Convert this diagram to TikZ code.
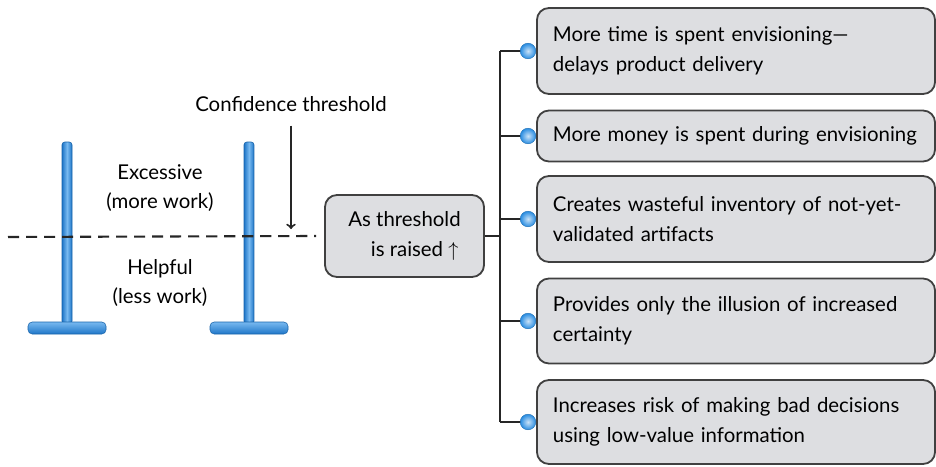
\documentclass[tikz,border=0pt]{standalone}
\usepackage{amsmath,amssymb}
\usepackage{fontspec}
\setmainfont{Lato}
\definecolor{boxgray}{RGB}{221,222,225}
\definecolor{postblue}{RGB}{30,118,200}
\definecolor{postlight}{RGB}{120,185,240}
\definecolor{dotblue}{RGB}{40,140,225}
\tikzset{
  textfont/.style={font=\fontsize{14.5}{21}\selectfont},
  effect/.style={draw=black!75, fill=boxgray, rounded corners=0.3cm, line width=1.3pt,
    align=left, text width=9.15cm, inner xsep=0.4cm, minimum width=9.95cm, textfont},
  raisedbox/.style={draw=black!75, fill=boxgray, rounded corners=0.3cm, line width=1.3pt,
    align=center, minimum width=3.975cm, minimum height=2.05cm, textfont},
  bullet/.style={circle, inner sep=0pt, minimum size=0.39cm, draw=dotblue!80!black, line width=0.3pt,
    inner color=white!75!dotblue, outer color=dotblue},
  trunkline/.style={line width=2pt, black!85},
}

\begin{document}
\begin{tikzpicture}[x=0.025cm,y=-0.025cm]
  \useasboundingbox (0,0) rectangle (936,467);

  % the two posts
  \foreach \px in {67,249} {
    \shade[left color=postblue, right color=postblue, middle color=postlight, rounded corners=2pt]
      (\px-5,142) rectangle (\px+5,324);
    \draw[postblue!85!black, line width=0.4pt, rounded corners=2pt] (\px-5,142) rectangle (\px+5,324);
    \shade[top color=postlight, bottom color=postblue, rounded corners=3pt]
      (\px-39,322) rectangle (\px+39,334);
    \draw[postblue!85!black, line width=0.4pt, rounded corners=3pt] (\px-39,322) rectangle (\px+39,334);
  }

  \node[textfont, align=center] (excess) at (160,188) {Excessive\\(more work)};
  \node[textfont, align=center] (helpful) at (160,283) {Helpful\\(less work)};
  \node[textfont] (conf) at (291,104) {Confidence threshold};
  \coordinate (dashstart) at (8,237);
  \coordinate (confmark) at (291,229);

  \node[raisedbox] (raised) at (404.5,236) {As threshold\\ \quad is raised $\uparrow$};

  \draw[dashed, line width=1.5pt, dash pattern=on 0.28cm off 0.17cm, black!85]
    (dashstart) -- ([xshift=-0.2cm]raised.west);
  \draw[->, line width=1.4pt, black!85] (conf.south) ++(0,9) -- (confmark);

  % effects of raising the threshold
  \foreach \n/\y/\h/\txt in {
      1/51/86/{More time is spent envisioning---\\delays product delivery},
      2/136/51/{More money is spent during envisioning},
      3/219/86/{Creates wasteful inventory of not-yet-\\validated artifacts},
      4/321/85/{Provides only the illusion of increased\\certainty},
      5/422/84/{Increases risk of making bad decisions\\using low-value information}} {
    \node[effect, minimum height=\h*0.025cm] (eff\n) at (736,\y) {\txt};
    \coordinate (tr\n) at (500,\y);
    \draw[trunkline] (tr\n) -- (528,\y);
    \node[bullet] (dot\n) at (528,\y) {};
  }
  \draw[trunkline] (tr1) -- (tr5);
  \draw[trunkline] (raised.east) -- (raised.east -| tr1);
\end{tikzpicture}
\end{document}
